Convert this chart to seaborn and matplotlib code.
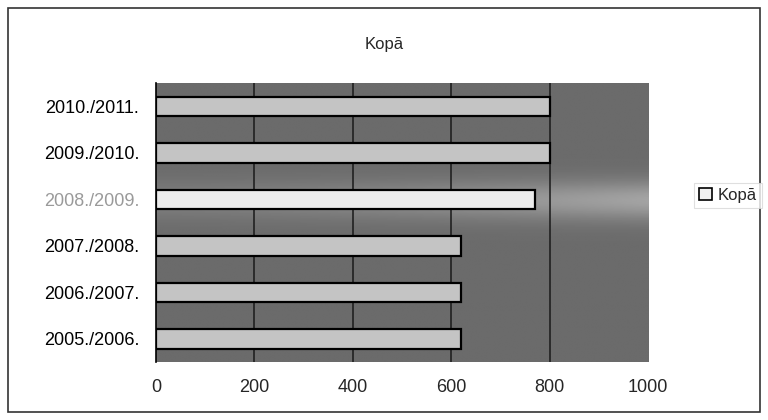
import numpy as np
import pandas as pd
import matplotlib.pyplot as plt
from matplotlib.patches import Patch, Rectangle
import seaborn as sns

# data
years = ['2010./2011.', '2009./2010.', '2008./2009.', '2007./2008.', '2006./2007.', '2005./2006.']
kopa = [800, 800, 770, 620, 620, 620]
bar_colors = ['#c4c4c4', '#c4c4c4', '#ececec', '#c4c4c4', '#c4c4c4', '#c4c4c4']
label_colors = ['black', 'black', '#9a9a9a', 'black', 'black', 'black']

df = pd.DataFrame({'year': years, 'value': kopa})

sns.set_style('white')
plt.rcParams['font.family'] = ['Liberation Sans', 'DejaVu Sans']

fig = plt.figure(figsize=(7.68, 4.2), dpi=100)
fig.patch.set_facecolor('white')
ax = fig.add_axes([0.203, 0.138, 0.641, 0.664])

# grey plot area with a soft lighter band behind the 2008./2009. row
yy = np.linspace(0, 1, 200)
xx = np.linspace(0, 1, 100)
band = np.exp(-((yy - 0.58) / 0.07) ** 2)
fade = 0.35 + 0.65 * xx ** 1.5
grad = 0.42 + 0.22 * band[:, None] * fade[None, :]
ax.imshow(grad, cmap='gray', vmin=0, vmax=1, aspect='auto',
          extent=[0, 1, 0, 1], transform=ax.transAxes, zorder=0, origin='lower')

sns.barplot(data=df, x='value', y='year', hue='year', palette=bar_colors,
            order=years, legend=False, width=0.42, edgecolor='black',
            linewidth=1.6, ax=ax, zorder=3)

ax.set_xlim(0, 1000)
ax.set_ylim(len(years) - 0.5, -0.5)
ax.set_xticks([0, 200, 400, 600, 800, 1000])
for xv in [200, 400, 600, 800]:
    ax.axvline(xv, color='#1a1a1a', lw=1.1, zorder=2)

ax.set_xlabel('')
ax.set_ylabel('')
ax.tick_params(axis='x', length=0, labelsize=13, pad=12)
ax.tick_params(axis='y', which='major', length=0, labelsize=13, pad=12)
ax.set_yticks(np.arange(-0.5, len(years)), minor=True)
ax.tick_params(axis='y', which='minor', length=5, width=1, direction='out', color='black')
for lbl, c in zip(ax.get_yticklabels(), label_colors):
    lbl.set_color(c)

for side in ['top', 'right', 'bottom']:
    ax.spines[side].set_visible(False)
ax.spines['left'].set_color('black')
ax.spines['left'].set_linewidth(1.2)

fig.text(0.50, 0.893, 'Kopā', ha='center', va='center', fontsize=12)

handle = Patch(facecolor='#f0f0f0', edgecolor='black', linewidth=1.2)
leg = fig.legend([handle], ['Kopā'], loc='center left', bbox_to_anchor=(0.893, 0.535),
                 fontsize=12, frameon=True, handlelength=0.8, handleheight=0.8,
                 handletextpad=0.3, borderpad=0.3, fancybox=False)
leg.get_frame().set_edgecolor('#d8d8d8')
leg.get_frame().set_linewidth(0.8)

fig.patches.append(Rectangle((8 / 768, 8 / 420), 752 / 768, 404 / 420, transform=fig.transFigure,
                             fill=False, edgecolor='#333333', linewidth=1.2))

fig.savefig('out.png', dpi=100)
